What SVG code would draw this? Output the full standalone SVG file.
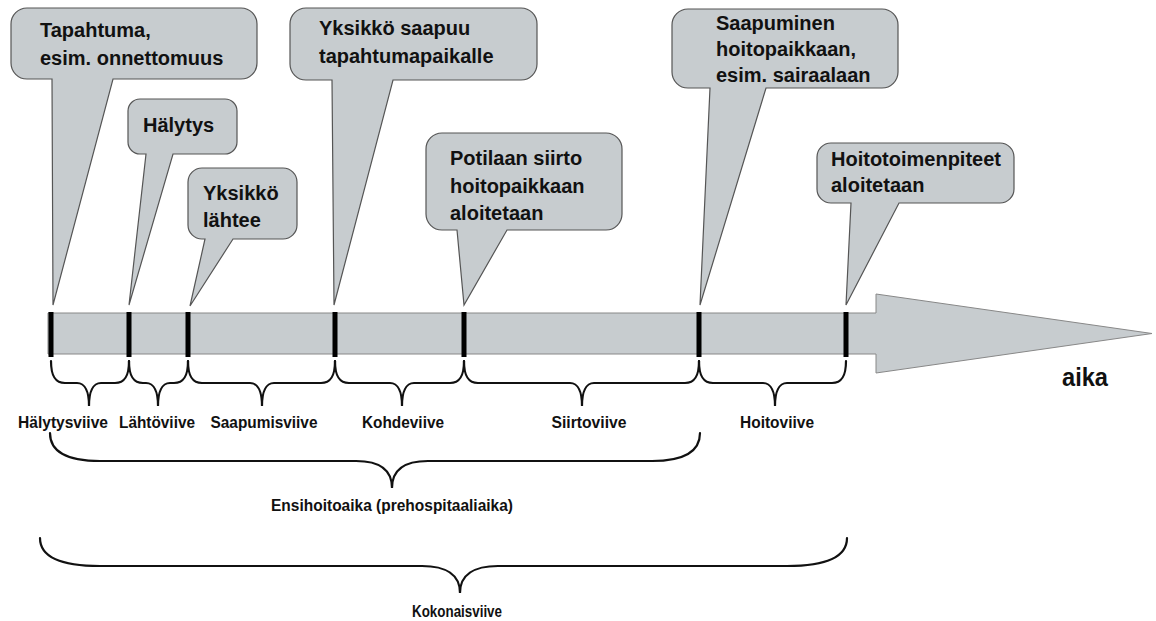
<svg xmlns="http://www.w3.org/2000/svg" width="1156" height="621" viewBox="0 0 1156 621">
<style>
.callout{fill:#c7cccf;stroke:#555;stroke-width:1.2}
.ct{font-family:"Liberation Sans",Arial,sans-serif;font-weight:bold;font-size:20px;fill:#111}
.lbl{font-family:"Liberation Sans",Arial,sans-serif;font-weight:bold;font-size:17px;fill:#111;text-anchor:middle}
.brace{fill:none;stroke:#111;stroke-width:2.2;stroke-linecap:round}
.tick{fill:#000}
</style>
<rect width="1156" height="621" fill="#fff"/>
<g id="timeline">
<path d="M48,313 H876 V294 L1152,333.5 L876,373 V354 H48 Z" fill="#c7cccf" stroke="#888" stroke-width="1"/>
<rect class="tick" x="48.5" y="312" width="5" height="45"/>
<rect class="tick" x="126.5" y="312" width="5" height="45"/>
<rect class="tick" x="185.5" y="312" width="5" height="45"/>
<rect class="tick" x="332.5" y="312" width="5" height="45"/>
<rect class="tick" x="461.5" y="312" width="5" height="45"/>
<rect class="tick" x="696.5" y="312" width="5" height="45"/>
<rect class="tick" x="843.5" y="312" width="5" height="45"/>
<text x="1085" y="386" font-family="'Liberation Sans',Arial,sans-serif" font-weight="bold" font-size="25" fill="#111" text-anchor="middle" textLength="46" lengthAdjust="spacingAndGlyphs">aika</text>
</g>
<g id="c1">
<path class="callout" d="M27,8 H241 A16,16 0 0 1 257,24 V63 A16,16 0 0 1 241,79 H113 L53,305 L52,79 H27 A16,16 0 0 1 11,63 V24 A16,16 0 0 1 27,8 Z"/>
<text class="ct" x="40" y="37">Tapahtuma,</text>
<text class="ct" x="40" y="65">esim. onnettomuus</text>
</g>
<g id="c2">
<path class="callout" d="M140,99 H225 A12,12 0 0 1 237,111 V142 A12,12 0 0 1 225,154 H173 L129,305 L146,154 H140 A12,12 0 0 1 128,142 V111 A12,12 0 0 1 140,99 Z"/>
<text class="ct" x="143" y="132">Hälytys</text>
</g>
<g id="c3">
<path class="callout" d="M202,168 H283 A14,14 0 0 1 297,182 V225 A14,14 0 0 1 283,239 H233 L190,306 L205,239 H202 A14,14 0 0 1 188,225 V182 A14,14 0 0 1 202,168 Z"/>
<text class="ct" x="203" y="200">Yksikkö</text>
<text class="ct" x="203" y="227">lähtee</text>
</g>
<g id="c4">
<path class="callout" d="M306,8 H521 A16,16 0 0 1 537,24 V64 A16,16 0 0 1 521,80 H393 L334,305 L332,80 H306 A16,16 0 0 1 290,64 V24 A16,16 0 0 1 306,8 Z"/>
<text class="ct" x="319" y="35">Yksikkö saapuu</text>
<text class="ct" x="319" y="63">tapahtumapaikalle</text>
</g>
<g id="c5">
<path class="callout" d="M442,133 H606 A16,16 0 0 1 622,149 V214 A16,16 0 0 1 606,230 H507 L464,305 L457,230 H442 A16,16 0 0 1 426,214 V149 A16,16 0 0 1 442,133 Z"/>
<text class="ct" x="450" y="165">Potilaan siirto</text>
<text class="ct" x="450" y="193">hoitopaikkaan</text>
<text class="ct" x="450" y="220">aloitetaan</text>
</g>
<g id="c6">
<path class="callout" d="M688,9 H882 A16,16 0 0 1 898,25 V72 A16,16 0 0 1 882,88 H766 L700,305 L710,88 H688 A16,16 0 0 1 672,72 V25 A16,16 0 0 1 688,9 Z"/>
<text class="ct" x="716" y="30">Saapuminen</text>
<text class="ct" x="716" y="56">hoitopaikkaan,</text>
<text class="ct" x="716" y="82">esim. sairaalaan</text>
</g>
<g id="c7">
<path class="callout" d="M831,143 H1000 A14,14 0 0 1 1014,157 V189 A14,14 0 0 1 1000,203 H899 L846,305 L851,203 H831 A14,14 0 0 1 817,189 V157 A14,14 0 0 1 831,143 Z"/>
<text class="ct" x="831" y="166">Hoitotoimenpiteet</text>
<text class="ct" x="831" y="192">aloitetaan</text>
</g>
<g id="braces">
<path class="brace" d="M51,361 C51,376 55,383 65,383 H77 C85,383 89,392 89,406 C89,392 93,383 101,383 H115 C125,383 129,376 129,361"/>
<path class="brace" d="M129,361 C129,376 133,383 143,383 H146 C154,383 158,392 158,406 C158,392 162,383 170,383 H174 C184,383 188,376 188,361"/>
<path class="brace" d="M188,361 C188,376 192,383 202,383 H250 C258,383 262,392 262,406 C262,392 266,383 274,383 H321 C331,383 335,376 335,361"/>
<path class="brace" d="M335,361 C335,376 339,383 349,383 H390 C398,383 402,392 402,406 C402,392 406,383 414,383 H450 C460,383 464,376 464,361"/>
<path class="brace" d="M464,361 C464,376 468,383 478,383 H570 C578,383 582,392 582,406 C582,392 586,383 594,383 H685 C695,383 699,376 699,361"/>
<path class="brace" d="M699,361 C699,376 703,383 713,383 H763 C771,383 775,392 775,406 C775,392 779,383 787,383 H832 C842,383 846,376 846,361"/>
<path class="brace" d="M50,433 C50,452 68,461 100,461 H356 C380,461 392,470 392,488 C392,470 404,461 428,461 H652 C684,461 700,452 700,433"/>
<path class="brace" d="M40,538 C40,557 60,566 100,566 H422 C446,566 460,575 460,593 C460,575 474,566 498,566 H787 C827,566 847,557 847,538"/>
</g>
<g id="labels">
<text class="lbl" x="63" y="428" textLength="90" lengthAdjust="spacingAndGlyphs">Hälytysviive</text>
<text class="lbl" x="157" y="428" textLength="76" lengthAdjust="spacingAndGlyphs">Lähtöviive</text>
<text class="lbl" x="264" y="428" textLength="107" lengthAdjust="spacingAndGlyphs">Saapumisviive</text>
<text class="lbl" x="403" y="428" textLength="82" lengthAdjust="spacingAndGlyphs">Kohdeviive</text>
<text class="lbl" x="589" y="428" textLength="75" lengthAdjust="spacingAndGlyphs">Siirtoviive</text>
<text class="lbl" x="777" y="428" textLength="74" lengthAdjust="spacingAndGlyphs">Hoitoviive</text>
<text class="lbl" x="392" y="511" textLength="242" lengthAdjust="spacingAndGlyphs">Ensihoitoaika (prehospitaaliaika)</text>
<text class="lbl" x="457" y="617" textLength="90" lengthAdjust="spacingAndGlyphs">Kokonaisviive</text>
</g>
</svg>
